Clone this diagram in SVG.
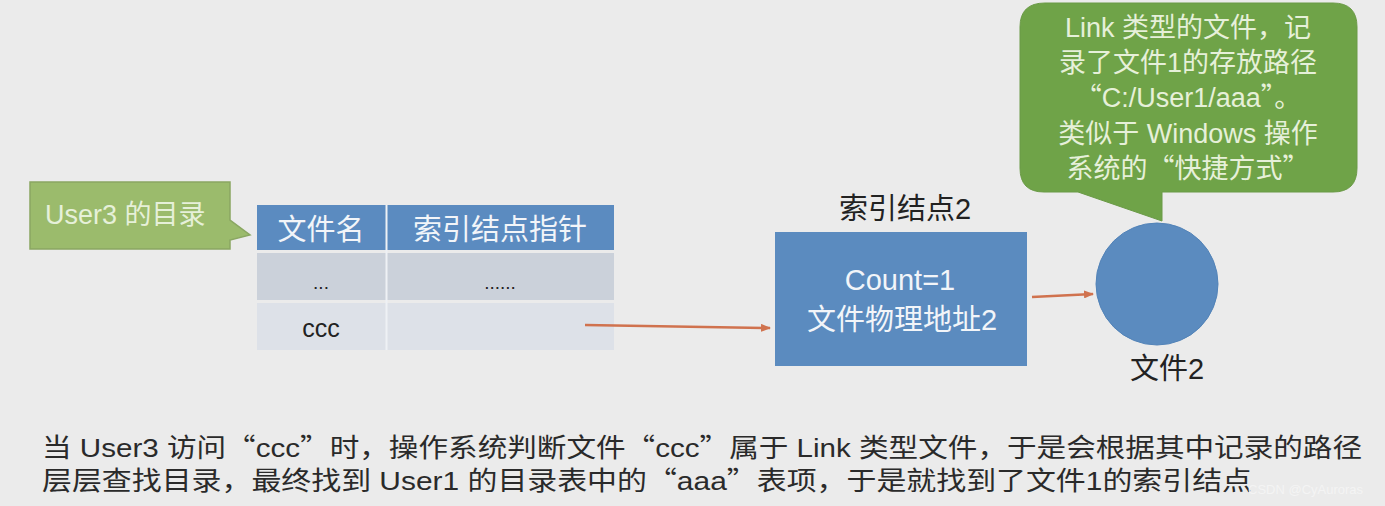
<svg xmlns="http://www.w3.org/2000/svg" width="1385" height="506" viewBox="0 0 1385 506">
<defs>
<style>
text{font-family:"Liberation Sans","Noto Sans CJK SC",sans-serif}
.q{font-family:"Noto Sans CJK SC",sans-serif}
.w{fill:#f2f5f9;font-size:29px}
.g{fill:#e6f0d9;font-size:27px}
.d{fill:#222;font-size:29px}
.cap{fill:#2a2a2a;font-size:26px}
.conn{stroke:#d0724e;stroke-width:2.5;fill:none;marker-end:url(#ah)}
</style>
<marker id="ah" markerWidth="10" markerHeight="8" refX="9" refY="4" orient="auto" markerUnits="userSpaceOnUse">
<path d="M0,0 L10,4 L0,8 z" fill="#d0724e"/>
</marker>
</defs>
<rect width="1385" height="506" fill="#ebebeb"/>
<g id="user3-callout">
<path d="M30,182 H230 V220 L250,235 L230,240 V249 H30 Z" fill="#9bbb6c" stroke="#8aa762" stroke-width="1.5"/>
<text x="45" y="224" class="g">User3 的目录</text>
</g>
<g id="dir-table">
<rect x="257" y="205" width="357" height="45" fill="#5b8bc0"/>
<rect x="257" y="253" width="357" height="47" fill="#cbd1da"/>
<rect x="257" y="303" width="357" height="47" fill="#dde1e8"/>
<line x1="386.500" y1="205" x2="386.500" y2="350" stroke="#eef1f5" stroke-width="2"/>
<text x="321" y="240" class="w" text-anchor="middle">文件名</text>
<text x="500" y="240" class="w" text-anchor="middle">索引结点指针</text>
<text x="321" y="289" class="d" text-anchor="middle" style="font-size:19px">...</text>
<text x="500" y="289" class="d" text-anchor="middle" style="font-size:19px">......</text>
<text x="321" y="337" class="d" text-anchor="middle" style="font-size:25px">ccc</text>
</g>
<g id="inode2">
<text x="905" y="219" class="d" text-anchor="middle">索引结点2</text>
<rect x="775" y="232" width="252" height="134" fill="#5b8bbf"/>
<text x="900" y="290" class="w" text-anchor="middle">Count=1</text>
<text x="902" y="330" class="w" text-anchor="middle">文件物理地址2</text>
</g>
<g id="file2">
<circle cx="1157" cy="284" r="61" fill="#5b8bbf" stroke="#5283b8" stroke-width="1"/>
<text x="1167" y="379" class="d" text-anchor="middle">文件2</text>
</g>
<g id="link-bubble">
<path d="M1045,3 H1333 Q1357,3 1357,27 V168 Q1357,192 1333,192 H1162 V221 L1078,192 H1044 Q1020,192 1020,168 V27 Q1020,3 1045,3 Z" fill="#6fa348" stroke="#6a9a46" stroke-width="1"/>
<text x="1188" y="37" class="g" text-anchor="middle">Link 类型的文件，记</text>
<text x="1188" y="72" class="g" text-anchor="middle">录了文件1的存放路径</text>
<text x="1188" y="107" class="g" text-anchor="middle"><tspan class="q">“</tspan>C:/User1/aaa<tspan class="q">”。</tspan></text>
<text x="1188" y="143" class="g" text-anchor="middle">类似于 Windows 操作</text>
<text x="1188" y="178" class="g" text-anchor="middle">系统的<tspan class="q">“</tspan>快捷方式<tspan class="q">”</tspan></text>
</g>
<g id="connectors">
<path class="conn" d="M585,325 L770,328"/>
<path class="conn" d="M1032,297 L1093,294"/>
</g>
<g id="caption">
<text x="42" y="457" class="cap" textLength="1320" lengthAdjust="spacingAndGlyphs">当 User3 访问<tspan class="q">“</tspan>ccc<tspan class="q">”</tspan>时，操作系统判断文件<tspan class="q">“</tspan>ccc<tspan class="q">”</tspan>属于 Link 类型文件，于是会根据其中记录的路径</text>
<text x="42" y="490" class="cap" textLength="1210" lengthAdjust="spacingAndGlyphs">层层查找目录，最终找到 User1 的目录表中的<tspan class="q">“</tspan>aaa<tspan class="q">”</tspan>表项，于是就找到了文件1的索引结点</text>
<text x="1248" y="494" fill="#f4f4f4" style="font-size:13px">CSDN @CyAuroras</text>
</g>
</svg>
